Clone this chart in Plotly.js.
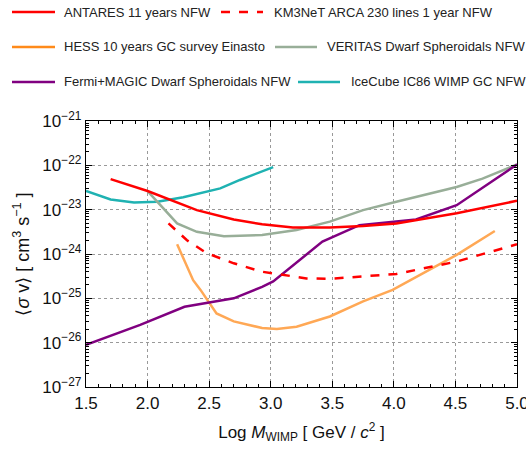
<!DOCTYPE html>
<html><head><meta charset="utf-8">
<script src="https://cdn.plot.ly/plotly-3.0.1.min.js"></script>
<style>body{margin:0;background:#fff}#c{width:526px;height:450px}</style>
</head><body><div id="c"></div>
<script>
// log10(M/GeV) and log10(<sigma v>)
const antaresX = [1.70, 2.00, 2.40, 2.70, 2.93, 3.18, 3.48, 3.75, 4.02, 4.18, 4.51, 5.00];
const antaresY = [-22.31, -22.58, -23.01, -23.22, -23.33, -23.40, -23.40, -23.37, -23.31, -23.24, -23.08, -22.80];
const km3X = [2.17, 2.32, 2.48, 2.70, 2.93, 3.29, 3.48, 3.75, 4.02, 4.51, 5.00];
const km3Y = [-23.31, -23.69, -23.98, -24.21, -24.40, -24.55, -24.56, -24.51, -24.45, -24.17, -23.78];
const hessX = [2.24, 2.37, 2.43, 2.56, 2.70, 2.93, 3.05, 3.21, 3.48, 3.75, 3.99, 4.29, 4.51, 4.82];
const hessY = [-23.78, -24.59, -24.81, -25.34, -25.52, -25.67, -25.69, -25.64, -25.41, -25.07, -24.81, -24.36, -24.02, -23.48];
const veritasX = [2.00, 2.16, 2.24, 2.40, 2.62, 2.93, 3.21, 3.48, 3.75, 4.02, 4.18, 4.51, 4.72, 5.00];
const veritasY = [-22.58, -23.08, -23.31, -23.50, -23.60, -23.57, -23.46, -23.27, -23.01, -22.82, -22.71, -22.49, -22.30, -21.98];
const fermiX = [1.50, 1.94, 2.30, 2.70, 2.93, 3.02, 3.42, 3.72, 4.18, 4.51, 5.00];
const fermiY = [-26.05, -25.60, -25.19, -25.00, -24.74, -24.62, -23.72, -23.35, -23.22, -22.90, -21.98];
const icecubeX = [1.50, 1.70, 1.89, 2.08, 2.29, 2.59, 2.75, 2.93, 3.02];
const icecubeY = [-22.58, -22.77, -22.84, -22.82, -22.72, -22.52, -22.33, -22.13, -22.04];

const names = ['ANTARES 11 years NFW', 'KM3NeT ARCA 230 lines 1 year NFW', 'HESS 10 years GC survey Einasto',
  'VERITAS Dwarf Spheroidals NFW', 'Fermi+MAGIC Dwarf Spheroidals NFW', 'IceCube IC86 WIMP GC NFW'];
const yTickExp = [-27, -26, -25, -24, -23, -22, -21];
const xTicks = [1.5, 2.0, 2.5, 3.0, 3.5, 4.0, 4.5, 5.0];

const pow = a => a.map(v => Math.pow(10, v));
const mk = (x, y, color, dash, name) => ({x: x, y: pow(y), type: 'scatter', mode: 'lines', name: name,
  line: {color: color, width: 2.5, dash: dash || 'solid'}, showlegend: false, hoverinfo: 'skip'});

const traces = [
  mk(icecubeX, icecubeY, '#1fb2b2', null, names[5]),
  mk(veritasX, veritasY, '#98ae98', null, names[3]),
  mk(hessX, hessY, '#ffa855', null, names[2]),
  mk(fermiX, fermiY, '#800080', null, names[4]),
  mk(km3X, km3Y, '#ff0000', 'dash', names[1]),
  mk(antaresX, antaresY, '#ff0000', null, names[0])
];

// manual legend (paper coords); plot area px: x 86..517, y 121..387
const W = 431, H = 266, L = 86, B = 387;
const px = v => (v - L) / W, py = v => (B - v) / H;
const leg = [
  {x0: 12, x1: 55, tx: 62, y: 12, c: '#ff0000', d: 'solid', t: names[0]},
  {x0: 221, x1: 263, tx: 272, y: 12, c: '#ff0000', d: 'dash', t: names[1]},
  {x0: 12, x1: 55, tx: 62, y: 47, c: '#ff8a1a', d: 'solid', t: names[2]},
  {x0: 275, x1: 317, tx: 325, y: 47, c: '#98ae98', d: 'solid', t: names[3]},
  {x0: 12, x1: 55, tx: 62, y: 82, c: '#800080', d: 'solid', t: names[4]},
  {x0: 298, x1: 340, tx: 349, y: 82, c: '#1fb2b2', d: 'solid', t: names[5]}
];
const shapes = leg.map(e => ({type: 'line', xref: 'paper', yref: 'paper', x0: px(e.x0), x1: px(e.x1),
  y0: py(e.y), y1: py(e.y), line: {color: e.c, width: 2.5, dash: e.d}}));
const annotations = leg.map(e => ({xref: 'paper', yref: 'paper', x: px(e.tx), y: py(e.y), xanchor: 'left',
  yanchor: 'middle', text: e.t, showarrow: false, font: {size: 13, color: '#222'}}));

const layout = {
  width: 526, height: 450,
  margin: {l: 86, r: 9, t: 121, b: 63},
  paper_bgcolor: '#fff', plot_bgcolor: '#fff',
  font: {family: 'Liberation Sans, Arial, sans-serif', color: '#111'},
  showlegend: false,
  xaxis: {range: [1.5, 5.0], tickvals: xTicks, ticktext: xTicks.map(v => v.toFixed(1)),
    ticklabeloverflow: 'allow',
    ticks: 'inside', ticklen: 6, tickcolor: '#000', mirror: 'allticks', showline: true, linecolor: '#000', linewidth: 1.2,
    showgrid: true, gridcolor: '#999', griddash: 'dot', gridwidth: 1, zeroline: false,
    minor: {dtick: 0.1, ticks: 'inside', ticklen: 3, tickcolor: '#000', showgrid: false},
    tickfont: {size: 17},
    title: {text: 'Log <i>M</i><sub>WIMP</sub> [ GeV / <i>c</i><sup>2</sup> ]', font: {size: 17}, standoff: 14}},
  yaxis: {type: 'log', range: [-27, -21], tickvals: pow(yTickExp),
    ticktext: yTickExp.map(e => '10<sup>\u2212' + Math.abs(e) + '</sup>'),
    ticklabeloverflow: 'allow',
    ticks: 'inside', ticklen: 6, tickcolor: '#000', mirror: 'allticks', showline: true, linecolor: '#000', linewidth: 1.2,
    showgrid: true, gridcolor: '#999', griddash: 'dot', gridwidth: 1, zeroline: false,
    minor: {dtick: 'D1', ticks: 'inside', ticklen: 3, tickcolor: '#000', showgrid: false},
    tickfont: {size: 17},
    title: {text: '\u27e8<i>\u03c3</i> v\u27e9 [ cm<sup>3</sup> s<sup>\u22121</sup> ]', font: {size: 18}, standoff: 8}},
  shapes: shapes, annotations: annotations
};
Plotly.newPlot('c', traces, layout, {displayModeBar: false, staticPlot: true});
</script></body></html>
